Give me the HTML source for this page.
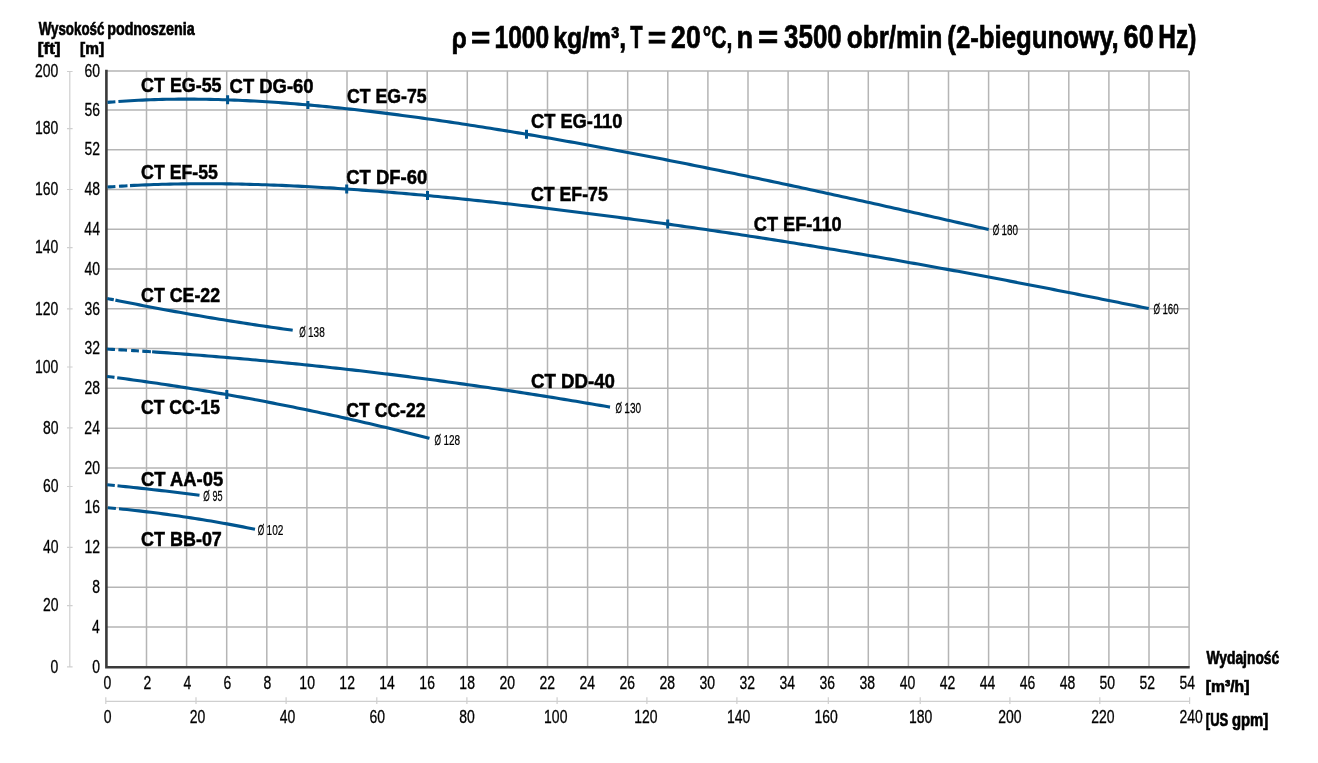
<!DOCTYPE html>
<html><head><meta charset="utf-8"><title>Chart</title>
<style>html,body{margin:0;padding:0;background:#fff;} body{width:1318px;height:763px;overflow:hidden;font-family:"Liberation Sans",sans-serif;} svg{display:block;will-change:transform;}</style>
</head><body>
<svg width="1318" height="763" viewBox="0 0 1318 763" font-family="Liberation Sans, sans-serif">
<rect width="1318" height="763" fill="#fff"/>
<path d="M69.8 71.5V666.8 M67 71.5H72.6 M67 128.7H72.6 M67 189.5H72.6 M67 247.7H72.6 M67 308.8H72.6 M67 367H72.6 M67 427.8H72.6 M67 486.5H72.6 M67 547.4H72.6 M67 605.6H72.6 M67 666.8H72.6 M105.80 701.4H1189.60 M105.80 697.2V704 M196.00 697.2V704 M286.10 697.2V704 M376.80 697.2V704 M466.90 697.2V704 M557.10 697.2V704 M646.90 697.2V704 M736.90 697.2V704 M828.30 697.2V704 M920.20 697.2V704 M1009.90 697.2V704 M1099.80 697.2V704 M1189.60 697.2V704" stroke="#cfcfcf" stroke-width="1.2" fill="none"/>
<path d="M146.50 71.00V666.80 M186.60 71.00V666.80 M226.70 71.00V666.80 M266.80 71.00V666.80 M306.90 71.00V666.80 M347.00 71.00V666.80 M387.10 71.00V666.80 M427.20 71.00V666.80 M467.30 71.00V666.80 M507.40 71.00V666.80 M547.50 71.00V666.80 M587.60 71.00V666.80 M627.70 71.00V666.80 M667.80 71.00V666.80 M707.90 71.00V666.80 M748.00 71.00V666.80 M788.10 71.00V666.80 M828.20 71.00V666.80 M868.30 71.00V666.80 M908.40 71.00V666.80 M948.50 71.00V666.80 M988.60 71.00V666.80 M1028.70 71.00V666.80 M1068.80 71.00V666.80 M1108.90 71.00V666.80 M1149.00 71.00V666.80 M1189.10 71.00V666.80 M106.40 627.02H1189.10 M106.40 587.25H1189.10 M106.40 547.47H1189.10 M106.40 507.70H1189.10 M106.40 467.92H1189.10 M106.40 428.14H1189.10 M106.40 388.37H1189.10 M106.40 348.59H1189.10 M106.40 308.82H1189.10 M106.40 269.04H1189.10 M106.40 229.26H1189.10 M106.40 189.49H1189.10 M106.40 149.71H1189.10 M106.40 109.94H1189.10 M106.40 71.00H1189.10" stroke="#b5b5b5" stroke-width="1.5" fill="none"/>
<path d="M106.40 69.8V667.3H1189.70" stroke="#3a3a3a" stroke-width="2.6" fill="none"/>
<path d="M107.50 102.37 L110.13 102.14 L112.77 101.93 L115.40 101.72 M118.40 101.50 L122.40 101.22 L126.40 100.96 L130.40 100.71 L134.40 100.49 L138.40 100.28 L142.40 100.09 L146.40 99.92 L150.40 99.77 L154.40 99.63 L158.40 99.51 L162.40 99.41 L166.40 99.32 L170.40 99.25 L174.40 99.19 L178.40 99.15 L182.40 99.13 L186.40 99.12 L190.40 99.13 L194.40 99.15 L198.40 99.18 L202.40 99.23 L206.40 99.29 L210.40 99.37 L214.40 99.46 L218.40 99.56 L222.40 99.68 L226.40 99.81 L230.40 99.95 L234.40 100.10 L238.40 100.27 L242.40 100.45 L246.40 100.64 L250.40 100.84 L254.40 101.05 L258.40 101.27 L262.40 101.51 L266.40 101.75 L270.40 102.01 L274.40 102.28 L278.40 102.55 L282.40 102.84 L286.40 103.14 L290.40 103.45 L294.40 103.76 L298.40 104.09 L302.40 104.42 L306.40 104.77 L310.40 105.12 L314.40 105.49 L318.40 105.86 L322.40 106.24 L326.40 106.62 L330.40 107.02 L334.40 107.42 L338.40 107.84 L342.40 108.26 L346.40 108.69 L350.40 109.12 L354.40 109.56 L358.40 110.02 L362.40 110.47 L366.40 110.94 L370.40 111.41 L374.40 111.89 L378.40 112.37 L382.40 112.87 L386.40 113.36 L390.40 113.87 L394.40 114.38 L398.40 114.90 L402.40 115.42 L406.40 115.95 L410.40 116.49 L414.40 117.03 L418.40 117.58 L422.40 118.13 L426.40 118.69 L430.40 119.25 L434.40 119.82 L438.40 120.39 L442.40 120.97 L446.40 121.56 L450.40 122.15 L454.40 122.74 L458.40 123.34 L462.40 123.95 L466.40 124.56 L470.40 125.17 L474.40 125.79 L478.40 126.41 L482.40 127.04 L486.40 127.67 L490.40 128.31 L494.40 128.95 L498.40 129.60 L502.40 130.25 L506.40 130.90 L510.40 131.56 L514.40 132.22 L518.40 132.88 L522.40 133.55 L526.40 134.22 L530.40 134.90 L534.40 135.58 L538.40 136.27 L542.40 136.95 L546.40 137.65 L550.40 138.34 L554.40 139.04 L558.40 139.74 L562.40 140.45 L566.40 141.16 L570.40 141.87 L574.40 142.58 L578.40 143.30 L582.40 144.03 L586.40 144.75 L590.40 145.48 L594.40 146.21 L598.40 146.95 L602.40 147.68 L606.40 148.42 L610.40 149.17 L614.40 149.92 L618.40 150.67 L622.40 151.42 L626.40 152.17 L630.40 152.93 L634.40 153.69 L638.40 154.46 L642.40 155.23 L646.40 156.00 L650.40 156.77 L654.40 157.54 L658.40 158.32 L662.40 159.10 L666.40 159.89 L670.40 160.67 L674.40 161.46 L678.40 162.25 L682.40 163.04 L686.40 163.84 L690.40 164.64 L694.40 165.44 L698.40 166.24 L702.40 167.05 L706.40 167.86 L710.40 168.67 L714.40 169.48 L718.40 170.30 L722.40 171.12 L726.40 171.94 L730.40 172.76 L734.40 173.59 L738.40 174.41 L742.40 175.24 L746.40 176.07 L750.40 176.91 L754.40 177.74 L758.40 178.58 L762.40 179.42 L766.40 180.26 L770.40 181.11 L774.40 181.96 L778.40 182.80 L782.40 183.66 L786.40 184.51 L790.40 185.36 L794.40 186.22 L798.40 187.08 L802.40 187.94 L806.40 188.80 L810.40 189.66 L814.40 190.53 L818.40 191.40 L822.40 192.27 L826.40 193.14 L830.40 194.01 L834.40 194.89 L838.40 195.76 L842.40 196.64 L846.40 197.52 L850.40 198.40 L854.40 199.28 L858.40 200.17 L862.40 201.05 L866.40 201.94 L870.40 202.83 L874.40 203.72 L878.40 204.61 L882.40 205.50 L886.40 206.39 L890.40 207.29 L894.40 208.18 L898.40 209.08 L902.40 209.97 L906.40 210.87 L910.40 211.77 L914.40 212.67 L918.40 213.57 L922.40 214.48 L926.40 215.38 L930.40 216.28 L934.40 217.19 L938.40 218.09 L942.40 218.99 L946.40 219.90 L950.40 220.81 L954.40 221.71 L958.40 222.62 L962.40 223.52 L966.40 224.43 L970.40 225.34 L974.40 226.24 L978.40 227.15 L982.40 228.06 L986.40 228.96 L988.70 229.49 M107.50 187.06 L110.13 186.87 L112.77 186.69 L115.40 186.51 M119.00 186.28 L121.83 186.10 L124.67 185.93 L127.50 185.77 M130.00 185.63 L134.00 185.42 L138.00 185.23 L142.00 185.05 L146.00 184.87 L150.00 184.72 L154.00 184.57 L158.00 184.44 L162.00 184.32 L166.00 184.21 L170.00 184.11 L174.00 184.02 L178.00 183.95 L182.00 183.88 L186.00 183.83 L190.00 183.79 L194.00 183.75 L198.00 183.73 L202.00 183.72 L206.00 183.72 L210.00 183.73 L214.00 183.75 L218.00 183.78 L222.00 183.81 L226.00 183.86 L230.00 183.92 L234.00 183.98 L238.00 184.05 L242.00 184.14 L246.00 184.23 L250.00 184.33 L254.00 184.44 L258.00 184.55 L262.00 184.68 L266.00 184.81 L270.00 184.95 L274.00 185.10 L278.00 185.26 L282.00 185.42 L286.00 185.59 L290.00 185.77 L294.00 185.95 L298.00 186.15 L302.00 186.34 L306.00 186.55 L310.00 186.76 L314.00 186.98 L318.00 187.21 L322.00 187.44 L326.00 187.68 L330.00 187.92 L334.00 188.17 L338.00 188.43 L342.00 188.69 L346.00 188.96 L350.00 189.24 L354.00 189.52 L358.00 189.80 L362.00 190.09 L366.00 190.39 L370.00 190.69 L374.00 191.00 L378.00 191.31 L382.00 191.63 L386.00 191.95 L390.00 192.28 L394.00 192.61 L398.00 192.94 L402.00 193.29 L406.00 193.63 L410.00 193.98 L414.00 194.34 L418.00 194.70 L422.00 195.06 L426.00 195.43 L430.00 195.80 L434.00 196.18 L438.00 196.56 L442.00 196.95 L446.00 197.34 L450.00 197.73 L454.00 198.13 L458.00 198.53 L462.00 198.93 L466.00 199.34 L470.00 199.75 L474.00 200.17 L478.00 200.59 L482.00 201.01 L486.00 201.44 L490.00 201.87 L494.00 202.31 L498.00 202.74 L502.00 203.18 L506.00 203.63 L510.00 204.08 L514.00 204.53 L518.00 204.98 L522.00 205.44 L526.00 205.90 L530.00 206.36 L534.00 206.83 L538.00 207.30 L542.00 207.77 L546.00 208.25 L550.00 208.73 L554.00 209.21 L558.00 209.70 L562.00 210.18 L566.00 210.67 L570.00 211.17 L574.00 211.67 L578.00 212.17 L582.00 212.67 L586.00 213.17 L590.00 213.68 L594.00 214.19 L598.00 214.71 L602.00 215.22 L606.00 215.74 L610.00 216.26 L614.00 216.79 L618.00 217.32 L622.00 217.85 L626.00 218.38 L630.00 218.91 L634.00 219.45 L638.00 219.99 L642.00 220.54 L646.00 221.08 L650.00 221.63 L654.00 222.18 L658.00 222.74 L662.00 223.29 L666.00 223.85 L670.00 224.41 L674.00 224.98 L678.00 225.54 L682.00 226.11 L686.00 226.68 L690.00 227.26 L694.00 227.83 L698.00 228.41 L702.00 229.00 L706.00 229.58 L710.00 230.17 L714.00 230.76 L718.00 231.35 L722.00 231.94 L726.00 232.54 L730.00 233.14 L734.00 233.74 L738.00 234.34 L742.00 234.95 L746.00 235.56 L750.00 236.17 L754.00 236.78 L758.00 237.40 L762.00 238.02 L766.00 238.64 L770.00 239.27 L774.00 239.89 L778.00 240.52 L782.00 241.15 L786.00 241.79 L790.00 242.42 L794.00 243.06 L798.00 243.70 L802.00 244.35 L806.00 244.99 L810.00 245.64 L814.00 246.29 L818.00 246.95 L822.00 247.60 L826.00 248.26 L830.00 248.92 L834.00 249.59 L838.00 250.25 L842.00 250.92 L846.00 251.59 L850.00 252.27 L854.00 252.94 L858.00 253.62 L862.00 254.30 L866.00 254.98 L870.00 255.67 L874.00 256.36 L878.00 257.05 L882.00 257.74 L886.00 258.44 L890.00 259.13 L894.00 259.83 L898.00 260.53 L902.00 261.24 L906.00 261.95 L910.00 262.66 L914.00 263.37 L918.00 264.08 L922.00 264.80 L926.00 265.52 L930.00 266.24 L934.00 266.96 L938.00 267.69 L942.00 268.41 L946.00 269.14 L950.00 269.88 L954.00 270.61 L958.00 271.35 L962.00 272.09 L966.00 272.83 L970.00 273.57 L974.00 274.32 L978.00 275.06 L982.00 275.81 L986.00 276.57 L990.00 277.32 L994.00 278.07 L998.00 278.83 L1002.00 279.59 L1006.00 280.35 L1010.00 281.12 L1014.00 281.88 L1018.00 282.65 L1022.00 283.42 L1026.00 284.19 L1030.00 284.96 L1034.00 285.74 L1038.00 286.52 L1042.00 287.29 L1046.00 288.07 L1050.00 288.85 L1054.00 289.64 L1058.00 290.42 L1062.00 291.21 L1066.00 292.00 L1070.00 292.79 L1074.00 293.58 L1078.00 294.37 L1082.00 295.16 L1086.00 295.96 L1090.00 296.75 L1094.00 297.55 L1098.00 298.35 L1102.00 299.15 L1106.00 299.95 L1110.00 300.75 L1114.00 301.55 L1118.00 302.35 L1122.00 303.16 L1126.00 303.96 L1130.00 304.77 L1134.00 305.57 L1138.00 306.38 L1142.00 307.18 L1146.00 307.99 L1148.80 308.56 M107.20 298.47 L109.40 298.92 L111.60 299.37 L113.80 299.81 M115.40 300.14 L119.40 300.94 L123.40 301.74 L127.40 302.53 L131.40 303.32 L135.40 304.10 L139.40 304.88 L143.40 305.65 L147.40 306.41 L151.40 307.17 L155.40 307.92 L159.40 308.67 L163.40 309.41 L167.40 310.15 L171.40 310.88 L175.40 311.60 L179.40 312.32 L183.40 313.03 L187.40 313.73 L191.40 314.43 L195.40 315.13 L199.40 315.82 L203.40 316.50 L207.40 317.18 L211.40 317.85 L215.40 318.51 L219.40 319.17 L223.40 319.83 L227.40 320.48 L231.40 321.12 L235.40 321.75 L239.40 322.39 L243.40 323.01 L247.40 323.63 L251.40 324.24 L255.40 324.85 L259.40 325.45 L263.40 326.05 L267.40 326.64 L271.40 327.22 L275.40 327.80 L279.40 328.37 L283.40 328.94 L287.40 329.50 L291.40 330.05 L292.70 330.23 M107.00 349.04 L109.67 349.19 L112.33 349.34 L115.00 349.50 M118.40 349.70 L121.27 349.87 L124.13 350.04 L127.00 350.21 M131.10 350.47 L133.70 350.63 L136.30 350.79 L138.90 350.96 M142.30 351.17 L145.17 351.36 L148.03 351.55 L150.90 351.74 M152.10 351.82 L156.10 352.09 L160.10 352.36 L164.10 352.64 L168.10 352.92 L172.10 353.21 L176.10 353.49 L180.10 353.79 L184.10 354.08 L188.10 354.38 L192.10 354.69 L196.10 354.99 L200.10 355.30 L204.10 355.62 L208.10 355.94 L212.10 356.26 L216.10 356.59 L220.10 356.92 L224.10 357.25 L228.10 357.59 L232.10 357.93 L236.10 358.27 L240.10 358.62 L244.10 358.97 L248.10 359.33 L252.10 359.69 L256.10 360.05 L260.10 360.42 L264.10 360.79 L268.10 361.17 L272.10 361.55 L276.10 361.93 L280.10 362.31 L284.10 362.70 L288.10 363.10 L292.10 363.50 L296.10 363.90 L300.10 364.30 L304.10 364.71 L308.10 365.12 L312.10 365.54 L316.10 365.96 L320.10 366.38 L324.10 366.81 L328.10 367.24 L332.10 367.68 L336.10 368.12 L340.10 368.56 L344.10 369.01 L348.10 369.46 L352.10 369.91 L356.10 370.37 L360.10 370.83 L364.10 371.29 L368.10 371.76 L372.10 372.24 L376.10 372.71 L380.10 373.19 L384.10 373.68 L388.10 374.16 L392.10 374.66 L396.10 375.15 L400.10 375.65 L404.10 376.15 L408.10 376.66 L412.10 377.17 L416.10 377.68 L420.10 378.20 L424.10 378.72 L428.10 379.25 L432.10 379.78 L436.10 380.31 L440.10 380.85 L444.10 381.39 L448.10 381.93 L452.10 382.48 L456.10 383.03 L460.10 383.59 L464.10 384.15 L468.10 384.71 L472.10 385.28 L476.10 385.85 L480.10 386.42 L484.10 387.00 L488.10 387.58 L492.10 388.17 L496.10 388.76 L500.10 389.35 L504.10 389.95 L508.10 390.55 L512.10 391.15 L516.10 391.76 L520.10 392.37 L524.10 392.99 L528.10 393.61 L532.10 394.23 L536.10 394.86 L540.10 395.49 L544.10 396.12 L548.10 396.76 L552.10 397.40 L556.10 398.05 L560.10 398.70 L564.10 399.35 L568.10 400.01 L572.10 400.67 L576.10 401.33 L580.10 402.00 L584.10 402.67 L588.10 403.35 L592.10 404.03 L596.10 404.71 L600.10 405.40 L604.10 406.09 L608.10 406.78 L610.00 407.11 M107.00 376.44 L109.50 376.76 L112.00 377.08 L114.50 377.40 M117.20 377.76 L121.20 378.29 L125.20 378.82 L129.20 379.37 L133.20 379.92 L137.20 380.47 L141.20 381.03 L145.20 381.60 L149.20 382.17 L153.20 382.76 L157.20 383.34 L161.20 383.94 L165.20 384.54 L169.20 385.14 L173.20 385.75 L177.20 386.37 L181.20 387.00 L185.20 387.63 L189.20 388.27 L193.20 388.91 L197.20 389.56 L201.20 390.22 L205.20 390.88 L209.20 391.55 L213.20 392.23 L217.20 392.91 L221.20 393.60 L225.20 394.30 L229.20 395.00 L233.20 395.71 L237.20 396.42 L241.20 397.14 L245.20 397.87 L249.20 398.60 L253.20 399.34 L257.20 400.09 L261.20 400.84 L265.20 401.60 L269.20 402.37 L273.20 403.14 L277.20 403.92 L281.20 404.70 L285.20 405.49 L289.20 406.29 L293.20 407.09 L297.20 407.91 L301.20 408.72 L305.20 409.54 L309.20 410.37 L313.20 411.21 L317.20 412.05 L321.20 412.90 L325.20 413.75 L329.20 414.62 L333.20 415.48 L337.20 416.36 L341.20 417.24 L345.20 418.12 L349.20 419.02 L353.20 419.92 L357.20 420.82 L361.20 421.73 L365.20 422.65 L369.20 423.58 L373.20 424.51 L377.20 425.44 L381.20 426.39 L385.20 427.34 L389.20 428.30 L393.20 429.26 L397.20 430.23 L401.20 431.20 L405.20 432.19 L409.20 433.17 L413.20 434.17 L417.20 435.17 L421.20 436.18 L425.20 437.19 L429.20 438.21 L429.50 438.29 M107.20 484.77 L109.73 485.03 L112.27 485.28 L114.80 485.53 M117.50 485.81 L121.50 486.22 L125.50 486.63 L129.50 487.05 L133.50 487.48 L137.50 487.91 L141.50 488.34 L145.50 488.78 L149.50 489.23 L153.50 489.68 L157.50 490.14 L161.50 490.60 L165.50 491.07 L169.50 491.54 L173.50 492.01 L177.50 492.50 L181.50 492.98 L185.50 493.47 L189.50 493.97 L193.50 494.47 L197.50 494.98 L199.50 495.24 M107.80 507.71 L110.50 507.95 L113.20 508.20 L115.90 508.46 M119.00 508.77 L123.00 509.17 L127.00 509.58 L131.00 510.01 L135.00 510.45 L139.00 510.90 L143.00 511.36 L147.00 511.84 L151.00 512.32 L155.00 512.82 L159.00 513.33 L163.00 513.86 L167.00 514.39 L171.00 514.94 L175.00 515.50 L179.00 516.07 L183.00 516.66 L187.00 517.26 L191.00 517.86 L195.00 518.49 L199.00 519.12 L203.00 519.76 L207.00 520.42 L211.00 521.09 L215.00 521.77 L219.00 522.47 L223.00 523.17 L227.00 523.89 L231.00 524.62 L235.00 525.36 L239.00 526.12 L243.00 526.89 L247.00 527.66 L251.00 528.46 L255.00 529.26" stroke="#00558f" stroke-width="3.1" fill="none" stroke-linejoin="round"/>
<path d="M227.60 95.35V104.35 M307.90 100.90V108.90 M526.50 129.74V138.74 M346.70 184.51V193.51 M427.50 191.07V200.07 M667.70 219.59V228.59 M226.80 390.08V399.08" stroke="#00558f" stroke-width="3" fill="none"/>
<g stroke="#000" stroke-width="0.7"><text transform="translate(38.70,34.70) scale(0.7014,1.0)" font-weight="bold" font-size="19.00" fill="#000">Wysokość</text><text transform="translate(107.15,34.70) scale(0.7534,1.0)" font-weight="bold" font-size="19.00" fill="#000">podnoszenia</text><text transform="translate(37.85,54.40) scale(0.9958,1.0)" font-weight="bold" font-size="17.02" fill="#000">[ft]</text><text transform="translate(80.03,54.40) scale(0.9078,1.0)" font-weight="bold" font-size="17.02" fill="#000">[m]</text><text transform="translate(451.79,48.00) scale(0.8065,1.0)" font-weight="bold" font-size="30.00" fill="#000">ρ</text><text transform="translate(471.10,48.00) scale(1.1032,1.0)" font-weight="bold" font-size="30.00" fill="#000">=</text><text transform="translate(494.46,48.00) scale(0.8009,1.0)" font-weight="bold" font-size="30.73" fill="#000">1000</text><text transform="translate(553.25,48.00) scale(0.8260,1.0)" font-weight="bold" font-size="30.00" fill="#000">kg/m³,</text><text transform="translate(630.16,48.00) scale(0.6582,1.0)" font-weight="bold" font-size="30.73" fill="#000">T</text><text transform="translate(647.85,48.00) scale(1.0516,1.0)" font-weight="bold" font-size="30.00" fill="#000">=</text><text transform="translate(671.11,48.00) scale(0.8660,1.0)" font-weight="bold" font-size="30.73" fill="#000">20</text><text transform="translate(702.84,48.00) scale(0.6781,1.0)" font-weight="bold" font-size="31.14" fill="#000">°C,</text><text transform="translate(736.39,48.00) scale(0.8508,1.0)" font-weight="bold" font-size="31.86" fill="#000">n</text><text transform="translate(758.05,48.00) scale(1.0875,1.0)" font-weight="bold" font-size="31.86" fill="#000">=</text><text transform="translate(784.03,48.00) scale(0.7711,1.0)" font-weight="bold" font-size="33.66" fill="#000">3500</text><text transform="translate(846.83,48.00) scale(0.8068,1.0)" font-weight="bold" font-size="32.29" fill="#000">obr/min</text><text transform="translate(947.31,48.00) scale(0.7988,1.0)" font-weight="bold" font-size="32.29" fill="#000">(2-biegunowy,</text><text transform="translate(1123.59,48.00) scale(0.8150,1.0)" font-weight="bold" font-size="33.37" fill="#000">60</text><text transform="translate(1158.37,48.00) scale(0.7518,1.0)" font-weight="bold" font-size="32.57" fill="#000">Hz)</text><text transform="translate(1206.50,663.90) scale(0.7810,1.0)" font-weight="bold" font-size="17.71" fill="#000">Wydajność</text><text transform="translate(1205.71,692.27) scale(0.9196,1.0)" font-weight="bold" font-size="17.13" fill="#000">[m³/h]</text><text transform="translate(1205.85,725.52) scale(0.7289,1.0)" font-weight="bold" font-size="17.89" fill="#000">[US</text><text transform="translate(1231.90,725.52) scale(0.8301,1.0)" font-weight="bold" font-size="17.89" fill="#000">gpm]</text></g>
<g stroke="#000" stroke-width="0.3"><text transform="translate(92.28,672.50) scale(0.7351,1)" font-size="19.00">0</text><text transform="translate(92.05,632.72) scale(0.7351,1)" font-size="19.00">4</text><text transform="translate(92.28,592.95) scale(0.7351,1)" font-size="19.00">8</text><text transform="translate(84.60,553.17) scale(0.7351,1)" font-size="19.00">12</text><text transform="translate(84.60,513.40) scale(0.7351,1)" font-size="19.00">16</text><text transform="translate(84.60,473.62) scale(0.7351,1)" font-size="19.00">20</text><text transform="translate(84.37,433.84) scale(0.7351,1)" font-size="19.00">24</text><text transform="translate(84.60,394.07) scale(0.7351,1)" font-size="19.00">28</text><text transform="translate(84.60,354.29) scale(0.7351,1)" font-size="19.00">32</text><text transform="translate(84.60,314.52) scale(0.7351,1)" font-size="19.00">36</text><text transform="translate(84.60,274.74) scale(0.7351,1)" font-size="19.00">40</text><text transform="translate(84.37,234.96) scale(0.7351,1)" font-size="19.00">44</text><text transform="translate(84.60,195.19) scale(0.7351,1)" font-size="19.00">48</text><text transform="translate(84.60,155.41) scale(0.7351,1)" font-size="19.00">52</text><text transform="translate(84.60,115.64) scale(0.7351,1)" font-size="19.00">56</text><text transform="translate(84.60,76.70) scale(0.7351,1)" font-size="19.00">60</text><text transform="translate(34.99,77.20) scale(0.7351,1)" font-size="19.00">200</text><text transform="translate(34.99,134.40) scale(0.7351,1)" font-size="19.00">180</text><text transform="translate(34.99,195.20) scale(0.7351,1)" font-size="19.00">160</text><text transform="translate(34.99,253.40) scale(0.7351,1)" font-size="19.00">140</text><text transform="translate(34.99,314.50) scale(0.7351,1)" font-size="19.00">120</text><text transform="translate(34.99,372.70) scale(0.7351,1)" font-size="19.00">100</text><text transform="translate(42.90,433.50) scale(0.7351,1)" font-size="19.00">80</text><text transform="translate(42.90,492.20) scale(0.7351,1)" font-size="19.00">60</text><text transform="translate(42.90,553.10) scale(0.7351,1)" font-size="19.00">40</text><text transform="translate(42.90,611.30) scale(0.7351,1)" font-size="19.00">20</text><text transform="translate(50.58,672.50) scale(0.7351,1)" font-size="19.00">0</text><text transform="translate(103.56,689.00) scale(0.7296,1)" font-size="19.14">0</text><text transform="translate(143.56,689.00) scale(0.7296,1)" font-size="19.14">2</text><text transform="translate(183.56,689.00) scale(0.7296,1)" font-size="19.14">4</text><text transform="translate(223.44,689.00) scale(0.7296,1)" font-size="19.14">6</text><text transform="translate(263.44,689.00) scale(0.7296,1)" font-size="19.14">8</text><text transform="translate(299.37,689.00) scale(0.7296,1)" font-size="19.14">10</text><text transform="translate(339.37,689.00) scale(0.7296,1)" font-size="19.14">12</text><text transform="translate(379.25,689.00) scale(0.7296,1)" font-size="19.14">14</text><text transform="translate(419.37,689.00) scale(0.7296,1)" font-size="19.14">16</text><text transform="translate(459.37,689.00) scale(0.7296,1)" font-size="19.14">18</text><text transform="translate(499.60,689.00) scale(0.7296,1)" font-size="19.14">20</text><text transform="translate(539.60,689.00) scale(0.7296,1)" font-size="19.14">22</text><text transform="translate(579.49,689.00) scale(0.7296,1)" font-size="19.14">24</text><text transform="translate(619.60,689.00) scale(0.7296,1)" font-size="19.14">26</text><text transform="translate(659.60,689.00) scale(0.7296,1)" font-size="19.14">28</text><text transform="translate(699.60,689.00) scale(0.7296,1)" font-size="19.14">30</text><text transform="translate(739.60,689.00) scale(0.7296,1)" font-size="19.14">32</text><text transform="translate(779.49,689.00) scale(0.7296,1)" font-size="19.14">34</text><text transform="translate(819.60,689.00) scale(0.7296,1)" font-size="19.14">36</text><text transform="translate(859.60,689.00) scale(0.7296,1)" font-size="19.14">38</text><text transform="translate(899.83,689.00) scale(0.7296,1)" font-size="19.14">40</text><text transform="translate(939.83,689.00) scale(0.7296,1)" font-size="19.14">42</text><text transform="translate(979.72,689.00) scale(0.7296,1)" font-size="19.14">44</text><text transform="translate(1019.83,689.00) scale(0.7296,1)" font-size="19.14">46</text><text transform="translate(1059.83,689.00) scale(0.7296,1)" font-size="19.14">48</text><text transform="translate(1099.60,689.00) scale(0.7296,1)" font-size="19.14">50</text><text transform="translate(1139.60,689.00) scale(0.7296,1)" font-size="19.14">52</text><text transform="translate(1179.49,689.00) scale(0.7296,1)" font-size="19.14">54</text><text transform="translate(103.76,723.00) scale(0.7351,1)" font-size="19.00">0</text><text transform="translate(189.70,723.00) scale(0.7351,1)" font-size="19.00">20</text><text transform="translate(279.83,723.00) scale(0.7351,1)" font-size="19.00">40</text><text transform="translate(369.50,723.00) scale(0.7351,1)" font-size="19.00">60</text><text transform="translate(459.20,723.00) scale(0.7351,1)" font-size="19.00">80</text><text transform="translate(544.11,723.00) scale(0.7351,1)" font-size="19.00">100</text><text transform="translate(634.31,723.00) scale(0.7351,1)" font-size="19.00">120</text><text transform="translate(726.91,723.00) scale(0.7351,1)" font-size="19.00">140</text><text transform="translate(814.51,723.00) scale(0.7351,1)" font-size="19.00">160</text><text transform="translate(908.91,723.00) scale(0.7351,1)" font-size="19.00">180</text><text transform="translate(998.24,723.00) scale(0.7351,1)" font-size="19.00">200</text><text transform="translate(1091.34,723.00) scale(0.7351,1)" font-size="19.00">220</text><text transform="translate(1179.44,723.00) scale(0.7351,1)" font-size="19.00">240</text></g>
<g stroke="#000" stroke-width="0.5"><text transform="translate(141.11,91.90) scale(0.8987,1.0)" font-weight="bold" font-size="19.90" fill="#000">CT EG-55</text><text transform="translate(229.58,92.70) scale(0.9190,1.0)" font-weight="bold" font-size="20.05" fill="#000">CT DG-60</text><text transform="translate(346.91,102.80) scale(0.8896,1.0)" font-weight="bold" font-size="19.90" fill="#000">CT EG-75</text><text transform="translate(530.99,127.90) scale(0.9120,1.0)" font-weight="bold" font-size="20.05" fill="#000">CT EG-110</text><text transform="translate(141.11,178.60) scale(0.8785,1.0)" font-weight="bold" font-size="20.20" fill="#000">CT EF-55</text><text transform="translate(346.28,184.00) scale(0.9001,1.0)" font-weight="bold" font-size="20.49" fill="#000">CT DF-60</text><text transform="translate(531.01,200.90) scale(0.8837,1.0)" font-weight="bold" font-size="20.05" fill="#000">CT EF-75</text><text transform="translate(753.79,230.80) scale(0.9062,1.0)" font-weight="bold" font-size="20.05" fill="#000">CT EF-110</text><text transform="translate(141.11,301.90) scale(0.8863,1.0)" font-weight="bold" font-size="20.05" fill="#000">CT CE-22</text><text transform="translate(530.97,387.90) scale(0.9183,1.0)" font-weight="bold" font-size="20.34" fill="#000">CT DD-40</text><text transform="translate(141.12,413.90) scale(0.8817,1.0)" font-weight="bold" font-size="19.90" fill="#000">CT CC-15</text><text transform="translate(346.32,416.90) scale(0.8660,1.0)" font-weight="bold" font-size="20.34" fill="#000">CT CC-22</text><text transform="translate(141.08,485.80) scale(0.9307,1.0)" font-weight="bold" font-size="19.76" fill="#000">CT AA-05</text><text transform="translate(141.10,545.90) scale(0.8955,1.0)" font-weight="bold" font-size="20.05" fill="#000">CT BB-07</text></g>
<g stroke="#000" stroke-width="0.25"><text transform="translate(992.68,235.00) scale(0.5839,1.0)" font-weight="normal" font-size="14.29" fill="#000">Ø</text><text transform="translate(1001.58,234.70) scale(0.6613,1.0)" font-weight="normal" font-size="14.93" fill="#000">180</text><text transform="translate(1153.48,314.00) scale(0.5781,1.0)" font-weight="normal" font-size="14.43" fill="#000">Ø</text><text transform="translate(1162.39,313.70) scale(0.6420,1.0)" font-weight="normal" font-size="15.07" fill="#000">160</text><text transform="translate(299.18,337.00) scale(0.5725,1.0)" font-weight="normal" font-size="14.57" fill="#000">Ø</text><text transform="translate(308.07,336.70) scale(0.6556,1.0)" font-weight="normal" font-size="15.22" fill="#000">138</text><text transform="translate(615.48,413.10) scale(0.5614,1.0)" font-weight="normal" font-size="14.86" fill="#000">Ø</text><text transform="translate(624.36,412.80) scale(0.6488,1.0)" font-weight="normal" font-size="15.51" fill="#000">130</text><text transform="translate(434.58,445.00) scale(0.5725,1.0)" font-weight="normal" font-size="14.57" fill="#000">Ø</text><text transform="translate(443.47,444.70) scale(0.6556,1.0)" font-weight="normal" font-size="15.22" fill="#000">128</text><text transform="translate(203.28,501.00) scale(0.5725,1.0)" font-weight="normal" font-size="14.57" fill="#000">Ø</text><text transform="translate(212.55,500.70) scale(0.5946,1.0)" font-weight="normal" font-size="15.22" fill="#000">95</text><text transform="translate(257.68,535.00) scale(0.5725,1.0)" font-weight="normal" font-size="14.57" fill="#000">Ø</text><text transform="translate(266.56,534.70) scale(0.6642,1.0)" font-weight="normal" font-size="15.22" fill="#000">102</text></g>
</svg>
</body></html>
